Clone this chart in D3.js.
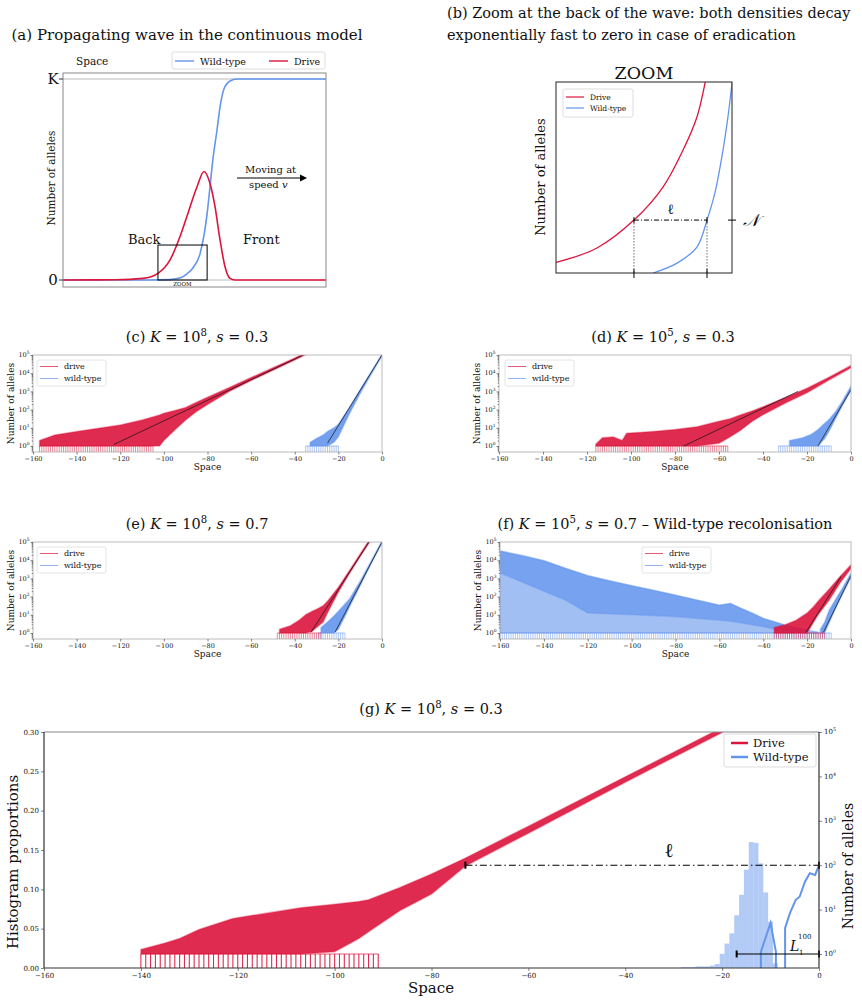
<!DOCTYPE html>
<html>
<head>
<meta charset="utf-8">
<script src="https://cdn.jsdelivr.net/npm/d3@7"></script>
<style>
  body { margin: 0; background: #fff; }
  text { font-family: 'DejaVu Serif', serif; fill: #111; }
</style>
</head>
<body>
<script>
const RED = "#DC143C", BLUE = "#6495ED"

// (a) continuous wave, x in arbitrary space units 0..100, y as fraction of K
const wildWave = [[0,0],[33,0],[40.7,0.002],[45,0.012],[47.1,0.03],[49.4,0.06],[52.1,0.13],[54.8,0.33],[55.9,0.465],[57.0,0.6],[58.6,0.75],[59.7,0.86],[61.2,0.95],[63.5,0.99],[66.2,1],[100,1]]
const driveWave = [[0,0],[20,0.001],[30.4,0.008],[36.1,0.033],[40.7,0.10],[44.5,0.216],[47.1,0.316],[51.0,0.465],[53.6,0.54],[55.9,0.48],[57.8,0.365],[59.7,0.2],[61.6,0.066],[63.5,0.008],[65.4,0],[100,0]]
const zoomBox = [36.1, 54.8, 0, 0.174]

// (b) zoom, arbitrary units 0..100
const driveZoom = [[0,5.5],[23.3,13.1],[44.3,27.7],[60.8,45],[72.2,64.4],[80.1,81.7],[84.7,99.5],[85.2,102]]
const wildZoom = [[55.1,0],[68.8,5.2],[80.1,13.6],[85.8,27.7],[90.3,41.9],[94.9,64.4],[97.7,81.7],[100,99.5]]
const ellZoom = [44.3, 85.8, 27.7]

// stochastic bands: [space, upper log10, lower log10]
const driveC = [[-157,0.3,0],[-150,0.6,0],[-140,0.8,0],[-130,0.97,0],[-120,1.15,0],[-110,1.43,0],[-102,1.7,0],[-100,1.8,0.3],[-95,1.95,0.88],[-90,2.12,1.43],[-85,2.4,1.9],[-80,2.68,2.28],[-70,3.22,3.0],[-60,3.76,3.6],[-50,4.3,4.16],[-40,4.84,4.73],[-34,5.18,5.08]]
const wildC = [[-33,0.2,0],[-30,0.42,0],[-27,0.6,0],[-25,0.8,0],[-22,1.0,0.2],[-20,1.2,0.5],[-17,1.75,1.25],[-15,2.1,1.75],[-10,3.1,2.88],[-5,4.07,3.93],[0,5.06,4.94]]
const driveD = [[-116,0.1,0],[-113,0.45,0],[-108,0.5,0],[-104,0.3,0],[-102,0.7,0],[-95,0.75,0],[-90,0.8,0],[-80,0.9,0],[-70,1.06,0],[-60,1.36,0.15],[-55,1.5,0.5],[-50,1.72,0.88],[-45,1.92,1.35],[-40,2.16,1.72],[-30,2.65,2.35],[-20,3.17,2.92],[-10,3.78,3.62],[0,4.42,4.3]]
const wildD = [[-28,0.3,0],[-22,0.45,0],[-18,0.65,0],[-15,0.9,0],[-12,1.25,0.4],[-10,1.45,0.8],[-7,1.9,1.5],[-4,2.45,2.2],[0,3.3,3.05]]
const driveE = [[-47,0.2,0],[-42,0.4,0],[-38,0.7,0],[-35,1.0,0],[-32,1.2,0.1],[-30,1.3,0.3],[-27,1.5,0.6],[-25,1.75,1.1],[-20,2.52,2.25],[-15,3.42,3.25],[-10,4.34,4.2],[-5,5.26,5.12]]
const wildE = [[-28,0.3,0],[-25,0.6,0],[-22,0.95,0],[-20,1.2,0.2],[-17,1.6,0.9],[-15,1.85,1.4],[-10,2.85,2.6],[-5,3.95,3.8],[0,5.07,4.95]]
const driveF = [[-35,0.3,0],[-30,0.45,0],[-25,0.7,0],[-20,1.1,0],[-17,1.45,0.6],[-15,1.75,1.0],[-10,2.4,1.8],[-5,3.1,2.75],[0,3.75,3.55]]
const wildF = [[-14,0.2,0],[-12,0.6,0],[-10,1.25,0.55],[-7,1.85,1.35],[-4,2.45,2.1],[0,3.3,3.05]]
const recolonOuter = [[-160,4.5,0],[-150,4.25,0],[-140,3.97,0],[-130,3.55,0],[-120,3.15,0],[-110,2.85,0],[-100,2.6,0],[-90,2.35,0],[-80,2.07,0],[-70,1.8,0],[-60,1.52,0],[-55,1.62,0],[-50,1.34,0],[-45,1.1,0],[-40,0.8,0],[-35,0.62,0],[-30,0.43,0],[-25,0.3,0],[-20,0.16,0],[-15,0.05,0]]
const recolonCore = [[-160,4.5,3.3],[-150,4.25,2.8],[-140,3.97,2.3],[-130,3.55,1.8],[-120,3.15,1.1],[-100,2.6,1.0],[-80,2.07,0.9],[-60,1.52,0.7],[-55,1.62,0.65],[-50,1.34,0.55],[-40,0.8,0.35],[-30,0.43,0.1],[-20,0.16,0]]
const driveG = [[-140,0.1,0],[-135,0.25,0],[-132,0.35,0],[-128,0.55,0],[-121,0.8,0],[-114,0.92,0],[-107,1.04,0],[-100,1.12,0.05],[-95,1.18,0.35],[-93,1.22,0.5],[-86.5,1.5,0.98],[-80,1.8,1.35],[-73,2.16,1.98],[-60,2.88,2.72],[-40,3.99,3.87],[-20,5.1,4.99],[-18,5.22,5.12]]

// spike ranges [from, to] where single-allele sites drop to zero
const spikesC = { drive: [-157, -105], wild: [-35, -20] }
const spikesD = { drive: [-116, -56], wild: [-33, -9] }
const spikesE = { drive: [-48, -28], wild: [-29, -17] }
const spikesF = { drive: [-35, -12], wild: [-160, -9] }
const spikesG = { drive: [-140, -91] }

// fitted exponential decay: [[x, log10], [x, log10]]
const fitC = [[[-123,0.08],[-36,5]], [[-25,0.15],[0,5]]]
const fitD = [[[-76,0],[-24,3]], [[-15,0],[0,3.1]]]
const fitE = [[[-32.5,0.05],[-6,5]], [[-21.5,0.05],[0,5]]]
const fitF = [[[-20.5,0.05],[-4.5,3.1]], [[-12.5,0.05],[0,3.15]]]

// (g) histogram of L_1^100 (bin left edge, proportion) and one wild-type profile
const histBins = [[-28.5,0.001],[-27.5,0.001],[-26.5,0.001],[-25.5,0.002],[-24.5,0.002],[-23.5,0.002],[-22.5,0.003],[-21.5,0.005],[-20.5,0.018],[-19.5,0.031],[-18.5,0.044],[-17.5,0.067],[-16.5,0.093],[-15.5,0.125],[-14.5,0.160],[-13.5,0.159],[-12.5,0.133],[-11.5,0.096],[-10.5,0.059],[-9.5,0.006]]
const wildG = [[-12,-1],[-12,0.05],[-10,0.7],[-8.9,0.05],[-8.9,-1],[-7,-1],[-7,0.59],[-6,0.92],[-4.8,1.22],[-4,1.29],[-2.9,1.63],[-1.9,1.82],[-0.8,1.78],[0,2.0]]
const ellG = [-73, 0, 2]
const lG = [-17, 0, 0]

const spaceTicks = d3.range(-160, 1, 20)
const decades = [1, 10, 100, 1e3, 1e4, 1e5]
const histTicks = [0, 0.05, 0.1, 0.15, 0.2, 0.25, 0.3]

const svg = d3.select("body").append("svg").attr("width", 862).attr("height", 1004)

function mathText(sel, parts, fs) {
  let shift = 0
  parts.forEach(([t, kind]) => {
    const ts = sel.append("tspan").text(t)
    const want = kind === "sup" ? -fs * 0.42 : 0
    if (want !== shift) { ts.attr("dy", want - shift); shift = want }
    if (kind === "i") ts.attr("font-style", "italic")
    if (kind === "sup") ts.attr("font-size", fs * 0.7)
  })
}

function title(x, y, parts, fs = 14.5) {
  const t = svg.append("text").attr("x", x).attr("y", y).attr("text-anchor", "middle").attr("font-size", fs)
  mathText(t, parts, fs)
}

let clipId = 0
function clip(x0, y0, x1, y1) {
  const id = "c" + (clipId++)
  svg.append("clipPath").attr("id", id).append("rect")
    .attr("x", x0).attr("y", y0).attr("width", x1 - x0).attr("height", y1 - y0)
  return `url(#${id})`
}

function styleAxis(sel, fs) {
  sel.attr("font-family", "DejaVu Serif").attr("font-size", fs)
  sel.select(".domain").remove()
  sel.selectAll(".tick line").attr("stroke", "#333").attr("stroke-width", 0.6)
  sel.selectAll(".tick text").attr("fill", "#222")
}

function powLabels(g, y, xPos, anchor, fs) {
  decades.forEach(v => {
    const t = g.append("text").attr("x", xPos).attr("y", y(v) + fs * 0.35)
      .attr("text-anchor", anchor).attr("font-size", fs).attr("fill", "#222")
    t.append("tspan").text("10")
    t.append("tspan").attr("dy", -fs * 0.45).attr("font-size", fs * 0.68).text(Math.round(Math.log10(v)))
  })
}

// ---------- (a) ----------
{
  title(187, 40, [["(a) Propagating wave in the continuous model"]], 15)
  const x = d3.scaleLinear([0, 100], [63, 326])
  const y = d3.scaleLinear([0, 1], [280, 79])
  const g = svg.append("g")
  g.selectAll(".ref").data([0, 1]).join("line")
    .attr("x1", 63).attr("x2", 326).attr("y1", d => y(d)).attr("y2", d => y(d))
    .attr("stroke", "#bbb").attr("stroke-width", 1)
  const line = d3.line().x(d => x(d[0])).y(d => y(d[1])).curve(d3.curveMonotoneX)
  g.append("path").attr("d", line(wildWave)).attr("fill", "none").attr("stroke", BLUE).attr("stroke-width", 1.6)
  g.append("path").attr("d", line(driveWave)).attr("fill", "none").attr("stroke", RED).attr("stroke-width", 1.6)
  g.append("rect").attr("x", 63).attr("y", 73).attr("width", 263).attr("height", 214)
    .attr("fill", "none").attr("stroke", "#888").attr("stroke-width", 1)
  g.append("rect").attr("x", x(zoomBox[0])).attr("y", y(zoomBox[3]))
    .attr("width", x(zoomBox[1]) - x(zoomBox[0])).attr("height", y(zoomBox[2]) - y(zoomBox[3]))
    .attr("fill", "none").attr("stroke", "#000").attr("stroke-width", 1)
  g.append("text").attr("x", x((zoomBox[0] + zoomBox[1]) / 2)).attr("y", 286).attr("text-anchor", "middle").attr("font-size", 5.5).text("ZOOM")
  ;[[1, "K"], [0, "0"]].forEach(([v, s]) => {
    g.append("line").attr("x1", 59).attr("x2", 63).attr("y1", y(v)).attr("y2", y(v)).attr("stroke", "#333")
    g.append("text").attr("x", 53).attr("y", y(v) + 5).attr("text-anchor", "middle").attr("font-size", 15).text(s)
  })
  g.append("text").attr("transform", "translate(55,178) rotate(-90)").attr("text-anchor", "middle").attr("font-size", 10.5).attr("fill", "#222").text("Number of alleles")
  g.append("text").attr("x", 76).attr("y", 65).attr("font-size", 10.5).text("Space")
  g.append("text").attr("x", 128).attr("y", 244).attr("font-size", 13).text("Back")
  g.append("text").attr("x", 243).attr("y", 244).attr("font-size", 13).text("Front")
  g.append("text").attr("x", 245).attr("y", 173).attr("font-size", 10).text("Moving at")
  const sp = g.append("text").attr("x", 249).attr("y", 188).attr("font-size", 10)
  sp.append("tspan").text("speed ")
  sp.append("tspan").attr("font-style", "italic").text("v")
  g.append("line").attr("x1", 237).attr("x2", 301).attr("y1", 178).attr("y2", 178).attr("stroke", "#000").attr("stroke-width", 1.1)
  g.append("path").attr("d", "M300,174.5 L307,178 L300,181.5 Z").attr("fill", "#000")
  // legend
  g.append("rect").attr("x", 172).attr("y", 52).attr("width", 153).attr("height", 17).attr("rx", 2)
    .attr("fill", "#fff").attr("stroke", "#ddd")
  ;[[173, BLUE, "Wild-type"], [267, RED, "Drive"]].forEach(([lx, c, s]) => {
    g.append("line").attr("x1", lx + 2).attr("x2", lx + 21).attr("y1", 61).attr("y2", 61).attr("stroke", c).attr("stroke-width", 1.4)
    g.append("text").attr("x", lx + 27).attr("y", 64.5).attr("font-size", 9.5).attr("fill", "#333").text(s)
  })
}

// ---------- (b) ----------
{
  svg.append("text").attr("x", 447).attr("y", 18).attr("font-size", 14.5).text("(b) Zoom at the back of the wave: both densities decay")
  svg.append("text").attr("x", 447).attr("y", 40).attr("font-size", 14.5).text("exponentially fast to zero in case of eradication")
  const x = d3.scaleLinear([0, 100], [556, 732])
  const y = d3.scaleLinear([0, 100], [273, 82])
  const g = svg.append("g")
  const pl = g.append("g").attr("clip-path", clip(556, 82, 732, 273))
  const line = d3.line().x(d => x(d[0])).y(d => y(d[1])).curve(d3.curveCatmullRom.alpha(0.5))
  pl.append("path").attr("d", line(driveZoom)).attr("fill", "none").attr("stroke", RED).attr("stroke-width", 1.3)
  pl.append("path").attr("d", line(wildZoom)).attr("fill", "none").attr("stroke", BLUE).attr("stroke-width", 1.3)
  g.append("rect").attr("x", 556).attr("y", 82).attr("width", 176).attr("height", 191).attr("fill", "none").attr("stroke", "#222").attr("stroke-width", 1)
  const [e0, e1, ev] = ellZoom
  g.append("line").attr("x1", x(e0)).attr("x2", x(e1)).attr("y1", y(ev)).attr("y2", y(ev))
    .attr("stroke", "#000").attr("stroke-width", 1).attr("stroke-dasharray", "5,2,1,2")
  ;[e0, e1].forEach(v => {
    g.append("line").attr("x1", x(v)).attr("x2", x(v)).attr("y1", y(ev)).attr("y2", y(0))
      .attr("stroke", "#000").attr("stroke-width", 0.6).attr("stroke-dasharray", "1.5,1.5")
    g.append("line").attr("x1", x(v)).attr("x2", x(v)).attr("y1", y(0) - 4).attr("y2", y(0) + 5).attr("stroke", "#000").attr("stroke-width", 1)
    g.append("line").attr("x1", x(v)).attr("x2", x(v)).attr("y1", y(ev) - 3).attr("y2", y(ev) + 3).attr("stroke", "#000").attr("stroke-width", 1)
  })
  g.append("line").attr("x1", 728).attr("x2", 736).attr("y1", y(ev)).attr("y2", y(ev)).attr("stroke", "#000").attr("stroke-width", 1)
  g.append("text").attr("x", x((e0 + e1) / 2)).attr("y", y(ev) - 6).attr("text-anchor", "middle").attr("font-size", 14).text("ℓ")
  g.append("text").attr("x", 743).attr("y", y(ev) + 6).attr("font-size", 17).attr("font-style", "italic").text("𝒩")
  g.append("text").attr("x", 644).attr("y", 79).attr("text-anchor", "middle").attr("font-size", 17.5).text("ZOOM")
  g.append("text").attr("transform", "translate(545,177) rotate(-90)").attr("text-anchor", "middle").attr("font-size", 13).text("Number of alleles")
  g.append("rect").attr("x", 563).attr("y", 89).attr("width", 70).attr("height", 28).attr("rx", 2).attr("fill", "#fff").attr("stroke", "#ddd")
  ;[[97, RED, "Drive"], [108, BLUE, "Wild-type"]].forEach(([ly, c, s]) => {
    g.append("line").attr("x1", 566).attr("x2", 584).attr("y1", ly).attr("y2", ly).attr("stroke", c).attr("stroke-width", 1.2)
    g.append("text").attr("x", 590).attr("y", ly + 2.7).attr("font-size", 7.5).attr("fill", "#333").text(s)
  })
}

// ---------- (c)-(f) ----------
function bandLayer(pl, x, y, band, color, op) {
  const area = d3.area().x(d => x(d[0])).y0(d => y(10 ** d[2])).y1(d => y(10 ** d[1]))
  pl.append("path").attr("d", area(band)).attr("fill", color).attr("fill-opacity", op)
    .attr("stroke", color).attr("stroke-opacity", 0.35).attr("stroke-width", 1.6).attr("stroke-linejoin", "round")
}

function spikeLayer(pl, x, y, range, color, w, op = 0.65) {
  if (!range) return
  const xs = d3.range(range[0], range[1] + 1)
  pl.append("g").selectAll("line").data(xs).join("line")
    .attr("x1", d => x(d)).attr("x2", d => x(d)).attr("y1", y(1)).attr("y2", y.range()[0])
    .attr("stroke", color).attr("stroke-opacity", op).attr("stroke-width", w)
  pl.append("line").attr("x1", x(range[0])).attr("x2", x(range[1])).attr("y1", y(1)).attr("y2", y(1))
    .attr("stroke", color).attr("stroke-opacity", 0.7).attr("stroke-width", w)
}

function logPanel(p) {
  title(p.tx, p.ty, p.title)
  const x = d3.scaleLinear([-160, 0], [p.left, p.right])
  const y = d3.scaleLog([10 ** -0.33, 1e5], [p.bottom, p.top])
  const g = svg.append("g")
  const pl = g.append("g").attr("clip-path", clip(p.left, p.top, p.right, p.bottom))
  ;(p.extraWild || []).forEach(([b, op]) => bandLayer(pl, x, y, b, BLUE, op))
  spikeLayer(pl, x, y, p.spikes.wild, BLUE, 0.8)
  bandLayer(pl, x, y, p.wild, BLUE, 0.9)
  spikeLayer(pl, x, y, p.spikes.drive, RED, 0.8)
  bandLayer(pl, x, y, p.drive, RED, 0.9)
  const fl = d3.line().x(d => x(d[0])).y(d => y(10 ** d[1]))
  p.fit.forEach(f => pl.append("path").attr("d", fl(f)).attr("fill", "none").attr("stroke", "#111").attr("stroke-width", 0.7))
  g.append("rect").attr("x", p.left).attr("y", p.top).attr("width", p.right - p.left).attr("height", p.bottom - p.top)
    .attr("fill", "none").attr("stroke", "#aaa").attr("stroke-width", 0.8)
  const xa = g.append("g").attr("transform", `translate(0,${p.bottom})`)
    .call(d3.axisBottom(x).tickValues(spaceTicks).tickSize(2.5).tickPadding(1.5))
  styleAxis(xa, 6.5)
  const ya = g.append("g").attr("transform", `translate(${p.left},0)`)
    .call(d3.axisLeft(y).tickValues(decades).tickSize(2.5).tickFormat(""))
  styleAxis(ya, 6.5)
  const ym = g.append("g").attr("transform", `translate(${p.left},0)`)
    .call(d3.axisLeft(y).tickValues(y.ticks().filter(v => !decades.includes(v))).tickSize(1.3).tickFormat(""))
  styleAxis(ym, 6.5)
  powLabels(g, y, p.left - 3.5, "end", 6.5)
  g.append("text").attr("x", (p.left + p.right) / 2).attr("y", p.bottom + 17.5).attr("text-anchor", "middle").attr("font-size", 9).text("Space")
  g.append("text").attr("transform", `translate(${p.left - 19},${(p.top + p.bottom) / 2}) rotate(-90)`)
    .attr("text-anchor", "middle").attr("font-size", 9).text("Number of alleles")
  const lx = p.legendX, ly = p.top + 5
  g.append("rect").attr("x", lx).attr("y", ly).attr("width", 69).attr("height", 26).attr("rx", 2).attr("fill", "#fff").attr("stroke", "#ddd").attr("stroke-width", 0.8)
  ;[[ly + 9, RED, "drive"], [ly + 21, BLUE, "wild-type"]].forEach(([yy, c, s]) => {
    g.append("line").attr("x1", lx + 3).attr("x2", lx + 21).attr("y1", yy - 2.5).attr("y2", yy - 2.5).attr("stroke", c).attr("stroke-opacity", 0.7).attr("stroke-width", 1)
    g.append("text").attr("x", lx + 27).attr("y", yy).attr("font-size", 8).attr("fill", "#333").text(s)
  })
}

logPanel({ left: 33, right: 382, top: 355, bottom: 452, tx: 197, ty: 342, legendX: 37,
  title: [["(c) "], ["K", "i"], [" = 10"], ["8", "sup"], [", "], ["s", "i"], [" = 0.3"]],
  drive: driveC, wild: wildC, spikes: spikesC, fit: fitC })
logPanel({ left: 499, right: 851, top: 355, bottom: 452, tx: 663, ty: 342, legendX: 505,
  title: [["(d) "], ["K", "i"], [" = 10"], ["5", "sup"], [", "], ["s", "i"], [" = 0.3"]],
  drive: driveD, wild: wildD, spikes: spikesD, fit: fitD })
logPanel({ left: 33, right: 382, top: 542, bottom: 639, tx: 197, ty: 529, legendX: 37,
  title: [["(e) "], ["K", "i"], [" = 10"], ["8", "sup"], [", "], ["s", "i"], [" = 0.7"]],
  drive: driveE, wild: wildE, spikes: spikesE, fit: fitE })
logPanel({ left: 500, right: 851, top: 542, bottom: 639, tx: 665, ty: 529, legendX: 642,
  title: [["(f) "], ["K", "i"], [" = 10"], ["5", "sup"], [", "], ["s", "i"], [" = 0.7 – Wild-type recolonisation"]],
  drive: driveF, wild: wildF, spikes: spikesF, fit: fitF,
  extraWild: [[recolonOuter, 0.6], [recolonCore, 0.7]] })

// ---------- (g) ----------
{
  title(431, 714, [["(g) "], ["K", "i"], [" = 10"], ["8", "sup"], [", "], ["s", "i"], [" = 0.3"]])
  const L = 44, R = 819, T = 732, B = 968
  const x = d3.scaleLinear([-160, 0], [L, R])
  const yH = d3.scaleLinear([0, 0.3], [B, T])
  const yC = d3.scaleLog([10 ** -0.315, 1e5], [B, T])
  const g = svg.append("g")
  const pl = g.append("g").attr("clip-path", clip(L, T, R, B))
  pl.selectAll(".bar").data(histBins).join("rect")
    .attr("x", d => x(d[0])).attr("width", d => x(d[0] + 1) - x(d[0]))
    .attr("y", d => yH(d[1])).attr("height", d => B - yH(d[1]))
    .attr("fill", BLUE).attr("fill-opacity", 0.5)
  spikeLayer(pl, x, yC, spikesG.drive, RED, 1.1, 0.9)
  bandLayer(pl, x, yC, driveG, RED, 0.9)
  pl.append("path").attr("d", d3.line().x(d => x(d[0])).y(d => yC(10 ** d[1]))(wildG))
    .attr("fill", "none").attr("stroke", BLUE).attr("stroke-width", 2)
  // annotations
  const ann = (x0, x1, v, dash) => {
    g.append("line").attr("x1", x(x0)).attr("x2", x(x1)).attr("y1", yC(10 ** v)).attr("y2", yC(10 ** v))
      .attr("stroke", "#000").attr("stroke-width", 1.1).attr("stroke-dasharray", dash)
    ;[x0, x1].forEach(xx => g.append("line").attr("x1", x(xx)).attr("x2", x(xx))
      .attr("y1", yC(10 ** v) - 3.5).attr("y2", yC(10 ** v) + 3.5).attr("stroke", "#000").attr("stroke-width", 2))
  }
  ann(ellG[0], ellG[1], ellG[2], "7,3,1.5,3")
  ann(lG[0], lG[1], lG[2], null)
  g.append("text").attr("x", 669).attr("y", 857).attr("text-anchor", "middle").attr("font-size", 20).text("ℓ")
  g.append("text").attr("x", 790).attr("y", 951).attr("font-size", 14).attr("font-style", "italic").text("L")
  g.append("text").attr("x", 798).attr("y", 939).attr("font-size", 7).text("100")
  g.append("text").attr("x", 799).attr("y", 955).attr("font-size", 7).text("1")
  // frame
  g.append("line").attr("x1", L).attr("x2", R).attr("y1", T).attr("y2", T).attr("stroke", "#888").attr("stroke-width", 1.2)
  g.append("line").attr("x1", L).attr("x2", R).attr("y1", B).attr("y2", B).attr("stroke", "#333").attr("stroke-width", 1.2)
  g.append("line").attr("x1", L).attr("x2", L).attr("y1", T).attr("y2", B).attr("stroke", "#333").attr("stroke-width", 1.2)
  g.append("line").attr("x1", R).attr("x2", R).attr("y1", T).attr("y2", B).attr("stroke", "#333").attr("stroke-width", 1.2)
  const xa = g.append("g").attr("transform", `translate(0,${B})`)
    .call(d3.axisBottom(x).tickValues(spaceTicks).tickSize(3).tickPadding(2))
  styleAxis(xa, 7)
  const ya = g.append("g").attr("transform", `translate(${L},0)`)
    .call(d3.axisLeft(yH).tickValues(histTicks).tickSize(3).tickPadding(2).tickFormat(d3.format(".2f")))
  styleAxis(ya, 7)
  const yr = g.append("g").attr("transform", `translate(${R},0)`)
    .call(d3.axisRight(yC).tickValues(decades).tickSize(3).tickFormat(""))
  styleAxis(yr, 7)
  powLabels(g, yC, R + 5, "start", 7)
  g.append("text").attr("x", 431).attr("y", 993).attr("text-anchor", "middle").attr("font-size", 15).text("Space")
  g.append("text").attr("transform", `translate(18,862) rotate(-90)`).attr("text-anchor", "middle").attr("font-size", 15).text("Histogram proportions")
  g.append("text").attr("transform", `translate(853,866) rotate(-90)`).attr("text-anchor", "middle").attr("font-size", 14).text("Number of alleles")
  // legend
  g.append("rect").attr("x", 724).attr("y", 734).attr("width", 92).attr("height", 33).attr("rx", 2).attr("fill", "#fff").attr("stroke", "#ddd")
  ;[[743, RED, "Drive"], [757, BLUE, "Wild-type"]].forEach(([yy, c, s]) => {
    g.append("line").attr("x1", 731).attr("x2", 748).attr("y1", yy).attr("y2", yy).attr("stroke", c).attr("stroke-width", 2.5)
    g.append("text").attr("x", 753).attr("y", yy + 4).attr("font-size", 11.5).attr("fill", "#222").text(s)
  })
}
</script>
</body>
</html>
